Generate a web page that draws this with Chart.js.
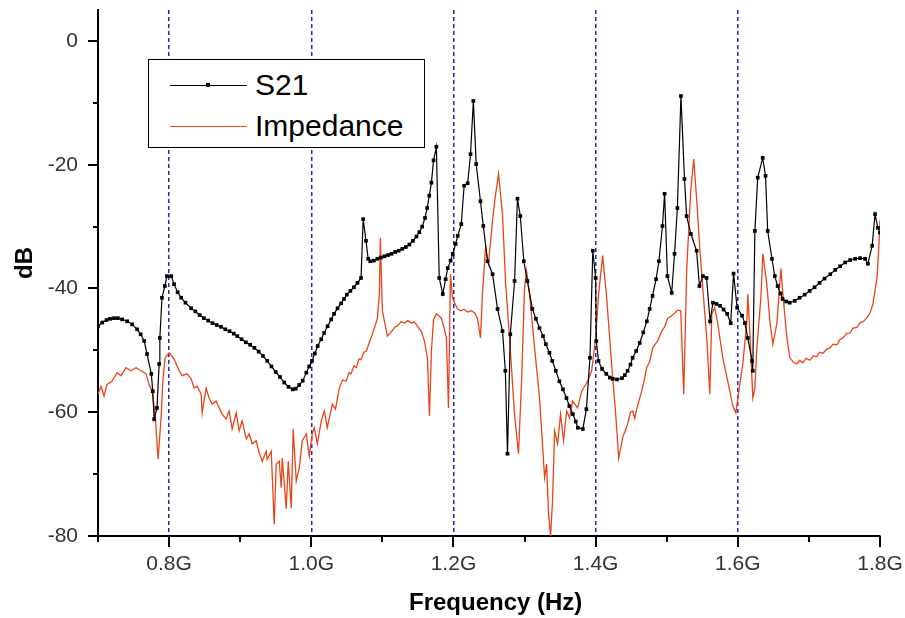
<!DOCTYPE html>
<html>
<head>
<meta charset="utf-8">
<script src="https://cdn.jsdelivr.net/npm/chart.js@4"></script>
<style>
  body { margin: 0; background: #fff; }
  #wrap { position: relative; width: 905px; height: 618px; }
  #legend {
    position: absolute; left: 148px; top: 59px; width: 275px; height: 87px;
    border: 1px solid #000; background: #fff;
    font-family: "Liberation Sans", Arial, sans-serif; font-size: 30px; color: #000;
  }
  .row { position: absolute; left: 0; width: 100%; height: 30px; line-height: 30px; }
  .sample { position: absolute; left: 21px; width: 77px; top: 15px; height: 0; border-top: 1px solid; }
  .mark { position: absolute; left: 36px; top: -3px; width: 4px; height: 4px; background: #000; }
  .txt { position: absolute; left: 106px; top: 0; white-space: nowrap; }
</style>
</head>
<body>
<div id="wrap">
  <canvas id="chart" width="905" height="618"></canvas>
  <div id="legend">
    <div class="row" style="top:10px"><div class="sample" style="border-color:#000"><div class="mark"></div></div><span class="txt">S21</span></div>
    <div class="row" style="top:51px"><div class="sample" style="border-color:#e4461e"></div><span class="txt">Impedance</span></div>
  </div>
</div>
<script>
// S21 trace (GHz, dB)
const s21Freq = [
  0.700, 0.706, 0.712, 0.717, 0.7225, 0.728, 0.734, 0.741, 0.748, 0.755, 0.760, 0.765, 0.769, 0.775, 0.777, 0.779,
  0.783, 0.786, 0.787, 0.790, 0.794, 0.797, 0.803, 0.807, 0.812, 0.817, 0.823, 0.831, 0.837, 0.843, 0.849, 0.855,
  0.861, 0.867, 0.873, 0.879, 0.885, 0.891, 0.896, 0.902, 0.908, 0.914, 0.920, 0.926, 0.932, 0.938, 0.944, 0.950,
  0.956, 0.962, 0.968, 0.974, 0.978, 0.983, 0.988, 0.993, 0.997, 1.001, 1.005, 1.009, 1.014, 1.018, 1.023, 1.028,
  1.032, 1.037, 1.042, 1.046, 1.050, 1.055, 1.060, 1.065, 1.070, 1.073, 1.077, 1.080, 1.083, 1.088, 1.093, 1.098,
  1.103, 1.108, 1.113, 1.118, 1.123, 1.128, 1.133, 1.138, 1.143, 1.148, 1.152, 1.156, 1.160, 1.163, 1.166, 1.169,
  1.172, 1.176, 1.180, 1.185, 1.189, 1.192, 1.196, 1.199, 1.203, 1.206, 1.211, 1.215, 1.220, 1.224, 1.228, 1.232,
  1.238, 1.242, 1.248, 1.255, 1.262, 1.269, 1.273, 1.276, 1.280, 1.286, 1.290, 1.294, 1.299, 1.304, 1.311, 1.316,
  1.321, 1.326, 1.330, 1.335, 1.339, 1.344, 1.349, 1.354, 1.359, 1.363, 1.368, 1.372, 1.375, 1.382, 1.387, 1.392,
  1.396, 1.400, 1.401, 1.404, 1.409, 1.415, 1.420, 1.424, 1.430, 1.437, 1.441, 1.445, 1.449, 1.452, 1.457, 1.462,
  1.467, 1.472, 1.476, 1.480, 1.485, 1.489, 1.494, 1.497, 1.501, 1.507, 1.511, 1.515, 1.520, 1.525, 1.528, 1.534,
  1.542, 1.546, 1.551, 1.556, 1.561, 1.565, 1.570, 1.575, 1.580, 1.585, 1.590, 1.594, 1.599, 1.606, 1.610, 1.614,
  1.620, 1.621, 1.624, 1.628, 1.635, 1.639, 1.642, 1.648, 1.652, 1.656, 1.660, 1.663, 1.668, 1.673, 1.680, 1.687,
  1.694, 1.701, 1.708, 1.715, 1.722, 1.730, 1.737, 1.744, 1.751, 1.758, 1.765, 1.772, 1.779, 1.783, 1.789, 1.793,
  1.797, 1.800
];
const s21Db = [
  -46.1, -45.5, -45.1, -44.9, -44.8, -44.8, -45.0, -45.3, -45.8, -46.6, -47.4, -48.5, -50.6, -53.8, -56.6, -61.1,
  -59.3, -52.2, -48.0, -41.5, -39.6, -38.0, -38.0, -39.3, -40.6, -41.5, -42.3, -43.2, -43.7, -44.3, -44.8, -45.2,
  -45.6, -45.9, -46.2, -46.6, -46.9, -47.3, -47.7, -48.2, -48.7, -49.1, -49.6, -50.2, -50.9, -51.7, -52.6, -53.5,
  -54.3, -55.2, -55.9, -56.3, -56.2, -55.6, -54.9, -53.6, -52.6, -51.7, -50.5, -49.3, -48.2, -47.2, -46.1, -45.0,
  -44.1, -43.2, -42.4, -41.7, -41.0, -40.4, -39.8, -39.1, -38.3, -28.8, -32.3, -35.2, -35.6, -35.5, -35.2, -35.0,
  -34.8, -34.6, -34.4, -34.1, -33.9, -33.6, -33.3, -32.9, -32.3, -31.6, -30.9, -30.0, -28.6, -27.0, -25.0, -22.9,
  -19.3, -17.1, -38.3, -40.9, -38.5, -36.7, -35.5, -34.4, -32.8, -31.5, -29.6, -23.4, -23.0, -18.3, -9.7, -19.9,
  -25.9, -29.9, -35.6, -37.7, -43.3, -46.9, -53.3, -66.7, -47.4, -38.8, -25.5, -28.3, -35.6, -38.8, -43.3, -44.9,
  -46.4, -47.7, -49.0, -50.4, -51.7, -53.3, -55.0, -56.3, -57.7, -59.0, -60.3, -61.5, -62.5, -62.7, -59.5, -51.2,
  -33.9, -38.3, -48.5, -51.7, -53.0, -53.8, -54.4, -54.6, -54.7, -54.5, -54.0, -53.3, -52.3, -51.2, -50.1, -48.8,
  -47.1, -45.3, -43.3, -41.2, -38.5, -35.6, -29.9, -24.7, -38.0, -40.7, -34.4, -27.0, -8.9, -22.3, -28.3, -31.2,
  -33.9, -39.6, -38.0, -38.3, -45.3, -42.3, -42.5, -42.8, -43.4, -44.1, -45.6, -37.6, -43.1, -44.4, -45.6, -48.0,
  -51.7, -53.3, -30.7, -22.1, -18.9, -21.8, -30.7, -35.2, -38.0, -39.6, -40.8, -41.7, -42.1, -42.3, -42.0, -41.5,
  -41.0, -40.4, -39.8, -39.1, -38.4, -37.7, -37.0, -36.4, -35.8, -35.4, -35.2, -35.1, -35.2, -36.0, -33.1, -28.0,
  -30.2, -31.0
];

// Impedance trace (GHz, dB)
const impFreq = [
  0.700, 0.7042, 0.7085, 0.7127, 0.7197, 0.7268, 0.7324, 0.7394, 0.7465, 0.7535, 0.7606, 0.7676, 0.7718, 0.7761, 0.7803, 0.7845,
  0.7887, 0.7915, 0.7944, 0.8000, 0.8070, 0.8141, 0.8183, 0.8254, 0.8310, 0.8352, 0.8394, 0.8451, 0.8465, 0.8521, 0.8563, 0.8606,
  0.8662, 0.8704, 0.8746, 0.8803, 0.8845, 0.8887, 0.8944, 0.8986, 0.9028, 0.9085, 0.9127, 0.9169, 0.9225, 0.9268, 0.9310, 0.9366,
  0.9380, 0.9437, 0.9479, 0.9507, 0.9549, 0.9577, 0.9592, 0.9648, 0.9676, 0.9718, 0.9746, 0.9789, 0.9831, 0.9873, 0.9930, 0.9972,
  1.0014, 1.0042, 1.0085, 1.0141, 1.0183, 1.0225, 1.0296, 1.0340, 1.0394, 1.0440, 1.0493, 1.0530, 1.0560, 1.0600, 1.0634, 1.0670,
  1.0700, 1.0740, 1.0775, 1.0820, 1.0859, 1.0900, 1.0930, 1.0958, 1.0972, 1.1000, 1.1070, 1.1140, 1.1180, 1.1211, 1.1260, 1.1310,
  1.1360, 1.1408, 1.1450, 1.1493, 1.1550, 1.1592, 1.1634, 1.1662, 1.1690, 1.1720, 1.1761, 1.1831, 1.1870, 1.1901, 1.1930, 1.1958,
  1.1986, 1.2056, 1.2100, 1.2150, 1.2200, 1.2254, 1.2300, 1.2338, 1.2380, 1.2408, 1.2451, 1.2493, 1.2549, 1.2590, 1.2634, 1.2690,
  1.2732, 1.2789, 1.2859, 1.2915, 1.2958, 1.3000, 1.3028, 1.3070, 1.3141, 1.3211, 1.3282, 1.3310, 1.3338, 1.3366, 1.3394, 1.3423,
  1.3465, 1.3507, 1.3549, 1.3592, 1.3634, 1.3676, 1.3746, 1.3803, 1.3845, 1.3887, 1.3944, 1.4000, 1.4042, 1.4099, 1.4155, 1.4225,
  1.4282, 1.4324, 1.4380, 1.4451, 1.4490, 1.4521, 1.4550, 1.4577, 1.4648, 1.4680, 1.4718, 1.4760, 1.4803, 1.4840, 1.4870, 1.4930,
  1.4970, 1.5014, 1.5060, 1.5113, 1.5150, 1.5197, 1.5239, 1.5282, 1.5338, 1.5380, 1.5423, 1.5465, 1.5507, 1.5563, 1.5606, 1.5634,
  1.5676, 1.5718, 1.5789, 1.5859, 1.5930, 1.5972, 1.6028, 1.6070, 1.6127, 1.6141, 1.6169, 1.6211, 1.6239, 1.6268, 1.6324, 1.6352,
  1.6408, 1.6451, 1.6493, 1.6549, 1.6606, 1.6634, 1.6690, 1.6732, 1.6780, 1.6831, 1.6870, 1.6915, 1.6960, 1.7014, 1.7060, 1.7113,
  1.7150, 1.7197, 1.7250, 1.7296, 1.7340, 1.7394, 1.7440, 1.7479, 1.7530, 1.7577, 1.7620, 1.7676, 1.7720, 1.7761, 1.7810, 1.7859,
  1.7901, 1.7958, 1.7986, 1.8000
];
const impDb = [
  -57.1, -55.8, -57.4, -55.5, -55.0, -53.6, -54.1, -52.8, -53.3, -52.8, -53.3, -53.8, -55.5, -56.6, -60.3, -67.6,
  -60.9, -54.5, -51.2, -50.4, -51.4, -53.3, -54.1, -53.8, -54.6, -56.1, -55.8, -57.1, -60.1, -56.1, -57.7, -58.7,
  -58.2, -59.3, -60.3, -61.1, -59.8, -62.7, -60.1, -63.0, -61.4, -64.3, -63.5, -65.1, -64.6, -66.6, -67.9, -66.3,
  -67.6, -66.3, -78.1, -68.4, -67.9, -72.2, -67.4, -75.6, -67.9, -75.5, -62.7, -71.1, -69.0, -64.6, -63.5, -67.1,
  -63.5, -62.5, -65.1, -61.4, -59.8, -62.5, -58.7, -59.5, -56.1, -54.8, -55.0, -53.6, -53.8, -52.5, -52.8, -51.4,
  -51.5, -50.3, -50.1, -48.6, -47.4, -46.0, -44.8, -41.0, -31.8, -43.6, -47.7, -46.8, -46.2, -46.1, -45.4, -45.6,
  -45.2, -45.6, -45.4, -46.1, -47.0, -48.5, -51.2, -60.6, -50.1, -45.0, -44.1, -44.8, -46.5, -48.0, -59.3, -37.7,
  -41.5, -43.3, -43.6, -43.4, -43.8, -43.6, -44.0, -44.8, -48.0, -40.9, -33.5, -35.9, -29.1, -25.0, -21.5, -28.0,
  -38.8, -48.0, -60.3, -66.7, -55.0, -39.9, -37.2, -40.9, -49.6, -57.7, -70.6, -68.4, -76.5, -80.0, -74.3, -63.0,
  -65.1, -60.3, -64.6, -59.8, -60.9, -58.2, -59.3, -56.6, -55.8, -55.0, -53.3, -48.0, -40.9, -34.7, -41.5, -52.2,
  -60.3, -67.4, -64.1, -61.9, -60.0, -59.8, -61.0, -59.5, -56.6, -55.0, -52.8, -51.8, -49.6, -49.0, -48.5, -46.9,
  -46.2, -44.8, -44.5, -44.0, -43.5, -43.6, -57.1, -36.7, -24.2, -19.1, -25.9, -33.5, -39.9, -48.0, -57.1, -44.1,
  -43.1, -45.7, -51.2, -55.0, -59.0, -60.1, -55.5, -52.2, -45.3, -40.9, -47.0, -57.7, -56.1, -49.6, -41.5, -34.4,
  -39.3, -45.3, -49.0, -45.7, -36.8, -40.9, -48.0, -51.2, -51.9, -52.2, -51.6, -52.0, -51.3, -51.6, -50.9, -51.0,
  -50.3, -50.5, -49.8, -49.6, -49.0, -49.1, -48.2, -48.0, -47.3, -47.2, -46.4, -46.3, -45.5, -45.4, -44.8, -44.0,
  -42.5, -38.3, -32.8, -29.0
];

// axis ticks
const xMin = 0.7, xMax = 1.8;
const yMin = -80, yMax = 5;
const xLabelTicks = [0.8, 1.0, 1.2, 1.4, 1.6, 1.8];
const xGuideLines = [0.8, 1.0, 1.2, 1.4, 1.6];
const yLabelTicks = [0, -20, -40, -60, -80];

const s21Points = s21Freq.map((f, i) => ({ x: f, y: s21Db[i] }));
const impPoints = impFreq.map((f, i) => ({ x: f, y: impDb[i] }));

const near = (v, list) => list.some(t => Math.abs(t - v) < 1e-6);

// outward tick marks, long on labelled ticks, short between
const tickMarks = {
  id: 'tickMarks',
  afterDraw(chart) {
    const { ctx, chartArea, scales } = chart;
    ctx.save();
    ctx.strokeStyle = '#000';
    ctx.lineWidth = 2;
    ctx.beginPath();
    scales.x.ticks.forEach(t => {
      const v = Math.round(t.value * 10) / 10;
      if (v < xMin - 1e-6 || v > xMax + 1e-6) return;
      const px = Math.round(scales.x.getPixelForValue(v));
      const len = near(v, xLabelTicks) ? 11 : 6;
      ctx.moveTo(px, chartArea.bottom);
      ctx.lineTo(px, chartArea.bottom + len);
    });
    scales.y.ticks.forEach(t => {
      if (Math.abs(t.value % 10) > 1e-6) return;
      const py = Math.round(scales.y.getPixelForValue(t.value));
      const len = near(t.value, yLabelTicks) ? 10 : 5;
      ctx.moveTo(chartArea.left, py);
      ctx.lineTo(chartArea.left - len, py);
    });
    ctx.stroke();
    ctx.restore();
  }
};

const ctx = document.getElementById('chart').getContext('2d');
new Chart(ctx, {
  type: 'line',
  data: {
    datasets: [
      {
        label: 'S21',
        data: s21Points,
        borderColor: '#000',
        borderWidth: 1.2,
        pointStyle: 'rect',
        pointRadius: 2.6,
        pointBorderWidth: 0,
        pointBackgroundColor: '#000',
        tension: 0
      },
      {
        label: 'Impedance',
        data: impPoints,
        borderColor: '#e8441a',
        borderWidth: 1.3,
        pointRadius: 0,
        tension: 0
      }
    ]
  },
  options: {
    responsive: false,
    animation: false,
    devicePixelRatio: 1,
    layout: { padding: { top: 10, right: 25, left: 0, bottom: 0 } },
    plugins: {
      legend: { display: false },
      tooltip: { enabled: false }
    },
    scales: {
      x: {
        type: 'linear',
        min: xMin,
        max: xMax,
        afterFit: s => { s.height = 82; s.paddingLeft = 0; s.paddingRight = 0; },
        ticks: {
          stepSize: 0.1,
          autoSkip: false,
          maxRotation: 0,
          padding: 16,
          color: '#333',
          font: { family: '"Liberation Sans", Arial, sans-serif', size: 21 },
          callback: v => near(Math.round(v * 10) / 10, xLabelTicks) ? (Math.round(v * 10) / 10).toFixed(1) + 'G' : ''
        },
        grid: {
          drawTicks: false,
          lineWidth: 1.5,
          color: c => (c.tick && near(Math.round(c.tick.value * 10) / 10, xGuideLines)) ? '#2626b4' : 'rgba(0,0,0,0)'
        },
        border: { display: true, color: '#000', width: 2, dash: [4, 3] },
        title: {
          display: true,
          text: '  Frequency (Hz)',
          color: '#000',
          padding: { top: 0, bottom: 0 },
          font: { family: '"Liberation Sans", Arial, sans-serif', size: 24, weight: 'bold' }
        }
      },
      y: {
        min: yMin,
        max: yMax,
        afterFit: s => { s.width = 98; s.paddingTop = 0; s.paddingBottom = 0; },
        ticks: {
          stepSize: 10,
          autoSkip: false,
          padding: 20,
          color: '#333',
          font: { family: '"Liberation Sans", Arial, sans-serif', size: 21 },
          callback: v => near(v, yLabelTicks) ? String(v) : ''
        },
        grid: { drawTicks: false, color: 'rgba(0,0,0,0)' },
        border: { display: true, color: '#000', width: 2 },
        title: {
          display: true,
          text: '   dB',
          color: '#000',
          padding: { top: 11, bottom: 11 },
          font: { family: '"Liberation Sans", Arial, sans-serif', size: 24, weight: 'bold' }
        }
      }
    }
  },
  plugins: [tickMarks]
});
</script>
</body>
</html>
